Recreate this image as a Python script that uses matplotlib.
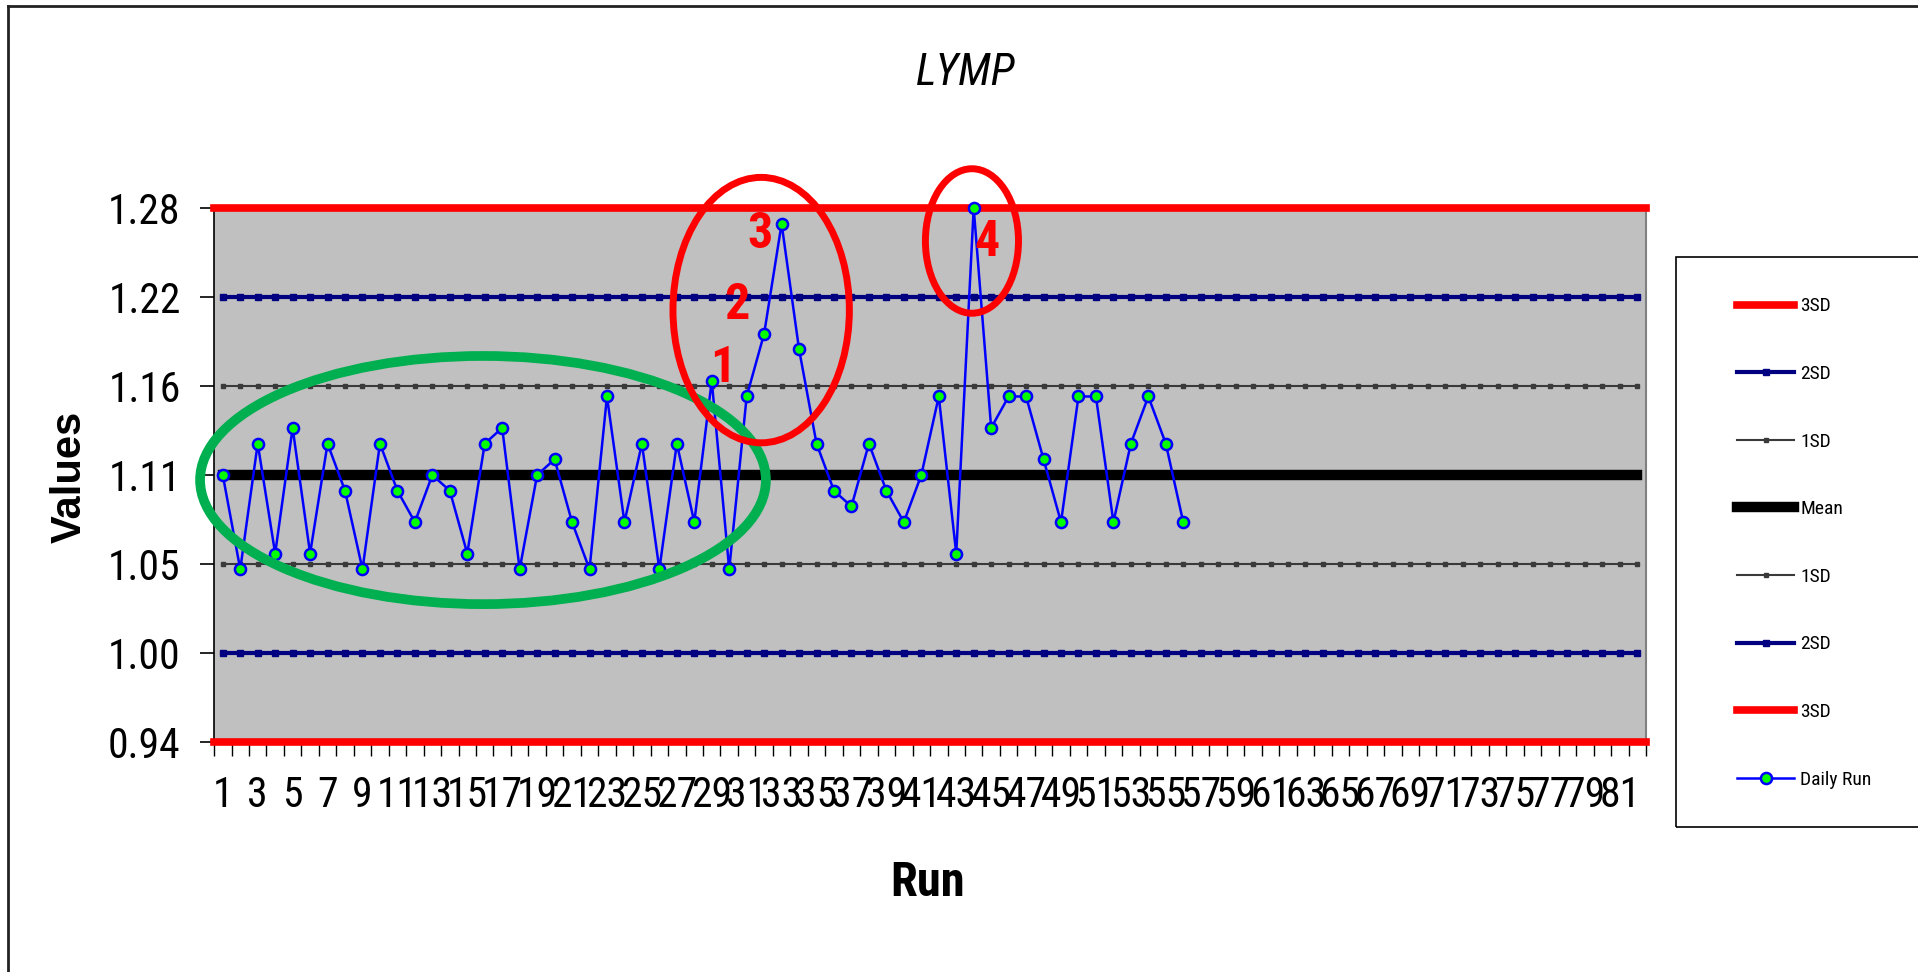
import numpy as np
import matplotlib
matplotlib.use('Agg')
import matplotlib.pyplot as plt
from matplotlib.patches import Ellipse, Rectangle
from matplotlib.lines import Line2D

# categories on the x axis (Excel style: 82 slots, labels on every other one)
runs = list(range(1, 83))
tick_label_runs = list(range(1, 82, 2))

# daily control results
daily_run = [1.11, 1.05, 1.13, 1.06, 1.14, 1.06, 1.13, 1.10, 1.05, 1.13,
             1.10, 1.08, 1.11, 1.10, 1.06, 1.13, 1.14, 1.05, 1.11, 1.12,
             1.08, 1.05, 1.16, 1.08, 1.13, 1.05, 1.13, 1.08, 1.17, 1.05,
             1.16, 1.20, 1.27, 1.19, 1.13, 1.10, 1.09, 1.13, 1.10, 1.08,
             1.11, 1.16, 1.06, 1.28, 1.14, 1.16, 1.16, 1.12, 1.08, 1.16,
             1.16, 1.08, 1.13, 1.16, 1.13, 1.08]

# control limits, top to bottom
limit_names = ['3SD', '2SD', '1SD', 'Mean', '1SD', '2SD', '3SD']
limit_values = [1.28, 1.2233, 1.1667, 1.11, 1.0533, 0.9967, 0.94]
ytick_labels = ['1.28', '1.22', '1.16', '1.11', '1.05', '1.00', '0.94']

NARROW = ['Roboto Condensed', 'Archivo Narrow', 'Liberation Sans', 'DejaVu Sans']
REGULAR = ['Liberation Sans', 'DejaVu Sans']

fig = plt.figure(figsize=(19.18, 9.72), dpi=100)
ax = fig.add_axes([0.1116, 0.2366, 0.7466, 0.5494])
ax.set_facecolor('#C0C0C0')

styles = {
    '3SD': dict(color='#FF0000', lw=5.5),
    '2SD': dict(color='#000080', lw=3, marker='s', ms=4),
    '1SD': dict(color='#3A3A3A', lw=1.5, marker='s', ms=3.5),
    'Mean': dict(color='black', lw=7.5),
}

handles = []
for name, val in zip(limit_names, limit_values):
    st = styles[name]
    if name == '3SD':
        h = ax.axhline(val, color=st['color'], lw=st['lw'], clip_on=False, zorder=3)
    else:
        h, = ax.plot(runs, [val] * len(runs), color=st['color'], lw=st['lw'],
                     marker=st.get('marker'), ms=st.get('ms', 0),
                     mfc=st['color'], mec=st['color'], zorder=2)
    handles.append(h)

h, = ax.plot(runs[:len(daily_run)], daily_run, color='#0000FF', lw=1.8,
             marker='o', ms=8, mfc='#00FF00', mec='#0000FF', mew=1.8,
             zorder=4, clip_on=False)
handles.append(h)
labels = limit_names + ['Daily Run']

ax.set_xlim(0.5, 82.5)
ax.set_ylim(0.94, 1.28)

# x ticks between categories, labels on odd categories
ax.set_xticks(np.arange(0.5, 83, 1.0))
ax.set_xticklabels([])
ax.set_xticks(tick_label_runs, minor=True)
ax.set_xticklabels([str(r) for r in tick_label_runs], minor=True,
                   fontsize=30, family=NARROW)
ax.tick_params(axis='x', which='major', length=10, width=1, direction='out')
ax.tick_params(axis='x', which='minor', length=0, pad=24)

ax.set_yticks(limit_values)
ax.set_yticklabels(ytick_labels, fontsize=30, family=NARROW)
ax.tick_params(axis='y', length=10, width=1.2, direction='out', pad=14)

for s in ['top', 'bottom']:
    ax.spines[s].set_visible(False)
ax.spines['right'].set_color('#808080')
ax.spines['right'].set_linewidth(1.5)
ax.spines['left'].set_color('black')
ax.spines['left'].set_linewidth(1.2)

# annotations drawn over the chart
ax.add_patch(Ellipse((15.9, 1.1068), 32.4, 0.158, fill=False, ec='#00B050',
                     lw=7, zorder=6, clip_on=False))
ax.add_patch(Ellipse((31.83, 1.215), 10.1, 0.169, fill=False, ec='#FF0000',
                     lw=5, zorder=6, clip_on=False))
ax.add_patch(Ellipse((43.9, 1.259), 5.33, 0.092, fill=False, ec='#FF0000',
                     lw=5, zorder=6, clip_on=False))
for txt, (xc, yc) in zip(['1', '2', '3', '4'],
                         [(29.65, 1.1775), (30.45, 1.218), (31.77, 1.263), (44.77, 1.258)]):
    ax.text(xc, yc, txt, color='#FF0000', fontsize=36, fontweight='bold',
            family=NARROW, ha='center', va='center', zorder=7)

# titles
fig.text(0.5037, 0.925, 'LYMP', fontsize=32, style='italic', family=NARROW,
         ha='center', va='center')
fig.text(0.4838, 0.0915, 'Run', fontsize=35, fontweight='bold', family=NARROW,
         ha='center', va='center')
fig.text(0.0365, 0.509, 'Values', fontsize=30, fontweight='bold', family=REGULAR,
         rotation=90, ha='center', va='center')

# legend box (cut off at the right edge like the reference)
fig.patches.append(Rectangle((1676 / 1918, 1 - 827 / 972), 0.2, (827 - 257) / 972,
                             transform=fig.transFigure, fill=False, ec='black', lw=1.2))
fig.legend(handles, labels, loc='center left', bbox_to_anchor=(1737 / 1918, 1 - 543 / 972),
           bbox_transform=fig.transFigure, frameon=False, borderpad=0, borderaxespad=0,
           handlelength=2.95, handletextpad=0.3, labelspacing=2.55,
           prop={'family': NARROW, 'size': 14})

# outer chart border (left and top visible)
fig.add_artist(Line2D([8 / 1918, 8 / 1918], [0, 1 - 6 / 972], transform=fig.transFigure,
                      color='#222222', lw=2))
fig.add_artist(Line2D([8 / 1918, 1], [1 - 6 / 972, 1 - 6 / 972], transform=fig.transFigure,
                      color='#222222', lw=2))

fig.savefig('out.png', dpi=100)
